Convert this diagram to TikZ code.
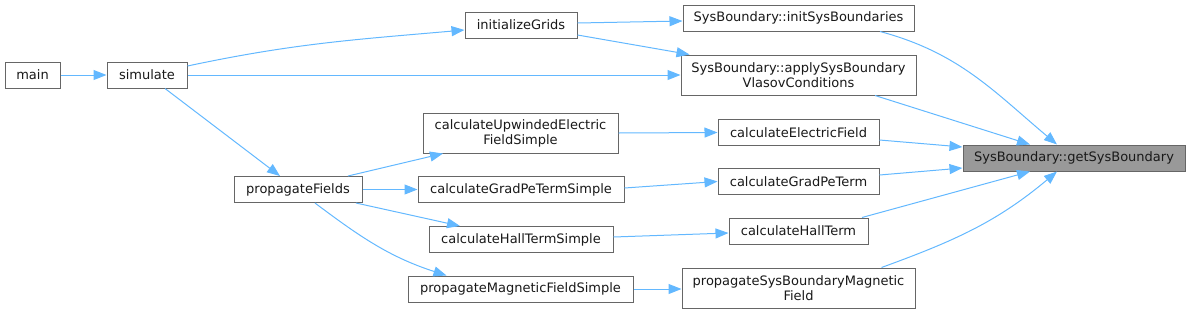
\documentclass[tikz,border=0pt]{standalone}
\usepackage{fontspec}
\setmainfont{DejaVu Sans}
\usetikzlibrary{arrows.meta,calc}
\definecolor{edgeblue}{HTML}{63B8FF}
\definecolor{nodeborder}{HTML}{666666}
\definecolor{hlfill}{HTML}{999999}
\tikzset{
  fn/.style={draw=nodeborder, line width=1pt, fill=white, rectangle, inner sep=0pt,
    align=center, font=\fontsize{13}{15}\selectfont, text=black!90},
  hl/.style={fn, fill=hlfill},
  edge/.style={draw=edgeblue, line width=1pt, -{Triangle[length=13pt,width=10pt]}},
}
\begin{document}
\begin{tikzpicture}[x=1pt,y=-1pt]
\useasboundingbox (0,0) rectangle (1189,314);
\node[fn, minimum width=55pt, minimum height=26pt] (main) at (32.5,75) {main};
\node[fn, minimum width=80pt, minimum height=26pt] (simulate) at (147,75) {simulate};
\node[fn, minimum width=112pt, minimum height=26pt] (initGrids) at (521,25) {initializeGrids};
\node[fn, minimum width=231pt, minimum height=26pt] (initSys) at (798.5,18) {SysBoundary::initSysBoundaries};
\node[fn, minimum width=235pt, minimum height=40pt] (applySys) at (798.5,75) {SysBoundary::applySysBoundary\\VlasovConditions};
\node[fn, minimum width=195pt, minimum height=40pt] (calcUpw) at (520.5,133) {calculateUpwindedElectric\\FieldSimple};
\node[fn, minimum width=161pt, minimum height=26pt] (calcEF) at (798.5,132.5) {calculateElectricField};
\node[hl, minimum width=222pt, minimum height=26pt] (getSys) at (1074,158) {SysBoundary::getSysBoundary};
\node[fn, minimum width=128pt, minimum height=26pt] (propF) at (298,189.5) {propagateFields};
\node[fn, minimum width=206pt, minimum height=26pt] (gradPeS) at (521,189.5) {calculateGradPeTermSimple};
\node[fn, minimum width=161pt, minimum height=26pt] (gradPe) at (798.5,181.5) {calculateGradPeTerm};
\node[fn, minimum width=184pt, minimum height=26pt] (hallS) at (521,239.5) {calculateHallTermSimple};
\node[fn, minimum width=139pt, minimum height=26pt] (hall) at (798.5,231) {calculateHallTerm};
\node[fn, minimum width=225pt, minimum height=26pt] (propMagS) at (520.5,289) {propagateMagneticFieldSimple};
\node[fn, minimum width=233pt, minimum height=40pt] (propSysB) at (798.5,288) {propagateSysBoundaryMagnetic\\Field};

\draw[edge] (main.east) -- (simulate.west);
\draw[edge] ([yshift=9pt]simulate.east) to[out=12,in=185] ([yshift=-5pt]initGrids.west);
\draw[edge] (simulate.east) -- (applySys.west);
\draw[edge] ([xshift=18pt]simulate.south) -- ([xshift=-18pt]propF.north);
\draw[edge] ([yshift=2pt]initGrids.east) -- ([yshift=-3pt]initSys.west);
\draw[edge] ([yshift=-10pt]initGrids.east) -- ([xshift=9pt]applySys.north west);
\draw[edge] ([xshift=81.5pt]initSys.south) to[out=-15,in=140] ([xshift=-17pt]getSys.north);
\draw[edge] ([xshift=76.5pt]applySys.south) -- ([xshift=-44pt]getSys.north);
\draw[edge] ([yshift=-7.5pt]calcEF.east) -- ([yshift=11pt]getSys.west);
\draw[edge] ([xshift=50pt]propF.north) -- ([xshift=-77.5pt]calcUpw.south);
\draw[edge] (propF.east) -- (gradPeS.west);
\draw[edge] ([xshift=58pt]propF.south) -- ([xshift=-61pt]hallS.north);
\draw[edge] ([xshift=17pt]propF.south) to[out=-37,in=162] ([xshift=-74pt]propMagS.north);
\draw[edge] (calcUpw.east) -- (calcEF.west);
\draw[edge] ([yshift=1.5pt]gradPeS.east) -- (gradPe.west);
\draw[edge] ([yshift=6.5pt]gradPe.east) -- ([yshift=-10pt]getSys.west);
\draw[edge] ([yshift=2.5pt]hallS.east) -- ([yshift=-2pt]hall.west);
\draw[edge] ([xshift=63.5pt]hall.north) -- ([xshift=-44pt]getSys.south);
\draw[edge] (propMagS.east) -- ([yshift=-1pt]propSysB.west);
\draw[edge] ([xshift=83pt]propSysB.north) to[out=20,in=-140] ([xshift=-17pt]getSys.south);
\end{tikzpicture}
\end{document}
